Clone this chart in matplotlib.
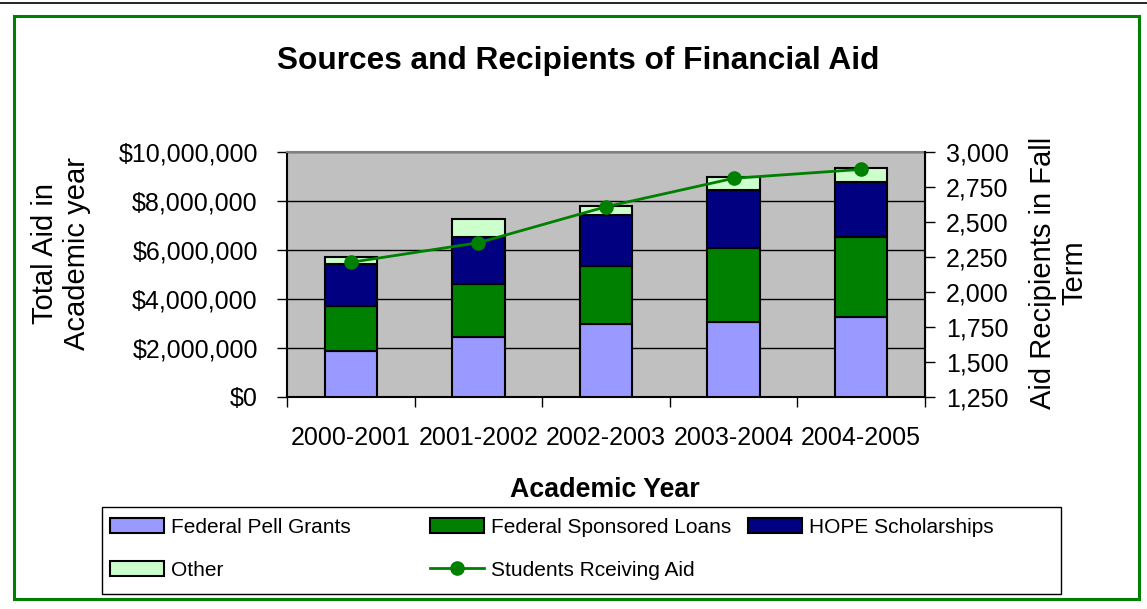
import matplotlib.pyplot as plt
import numpy as np
from matplotlib.patches import Rectangle
from matplotlib.lines import Line2D
from matplotlib.ticker import FuncFormatter

plt.rcParams['font.family'] = ['Liberation Sans', 'DejaVu Sans']

# data
years = ['2000-2001', '2001-2002', '2002-2003', '2003-2004', '2004-2005']
pell = [1890000, 2440000, 2990000, 3070000, 3250000]
loans = [1820000, 2170000, 2340000, 3000000, 3270000]
hope = [1720000, 1920000, 2110000, 2370000, 2270000]
other = [280000, 720000, 370000, 530000, 540000]
students = [2212, 2352, 2609, 2812, 2876]

W, H = 1147, 609
fig = plt.figure(figsize=(W / 100, H / 100), dpi=100)
ax = fig.add_axes([287 / W, 1 - 397 / H, (925 - 287) / W, (397 - 152) / H])

x = np.arange(len(years))
bw = 0.41
b0 = np.zeros(len(years))
series = [(pell, '#9999FF', 'Federal Pell Grants'),
          (loans, '#008000', 'Federal Sponsored Loans'),
          (hope, '#000080', 'HOPE Scholarships'),
          (other, '#CCFFCC', 'Other')]
bars = []
for vals, col, lab in series:
    b = ax.bar(x, vals, bw, bottom=b0, color=col, edgecolor='black', linewidth=1.5, label=lab, zorder=3)
    bars.append(b)
    b0 = b0 + np.array(vals)

ax.set_facecolor('#C0C0C0')
ax.set_xlim(-0.5, 4.5)
ax.set_ylim(0, 10000000)
ax.set_yticks(np.arange(0, 10000001, 2000000))
ax.yaxis.set_major_formatter(FuncFormatter(lambda v, p: '${:,.0f}'.format(v)))
ax.grid(axis='y', color='black', linewidth=1, zorder=1)
ax.set_axisbelow(True)
ax.set_xticks(np.arange(-0.5, 5, 1))
ax.set_xticklabels([])
ax.set_xticks(x, minor=True)
ax.set_xticklabels(years, minor=True)
ax.tick_params(axis='x', which='major', direction='out', length=7, width=1)
ax.tick_params(axis='x', which='minor', length=0, pad=21, labelsize=18)
ax.tick_params(axis='y', direction='out', length=7, width=1, pad=14, labelsize=18)
for s in ['left', 'bottom']:
    ax.spines[s].set_color('black')
    ax.spines[s].set_linewidth(1.5)
ax.spines['top'].set_color('#808080')
ax.spines['top'].set_linewidth(1.5)

ax2 = ax.twinx()
line, = ax2.plot(x, students, color='#008000', linewidth=2, marker='o', markersize=9.5,
                 label='Students Rceiving Aid', zorder=5)
ax2.set_ylim(1250, 3000)
ax2.set_yticks(np.arange(1250, 3001, 250))
ax2.yaxis.set_major_formatter(FuncFormatter(lambda v, p: '{:,.0f}'.format(v)))
ax2.tick_params(axis='y', direction='out', length=7, width=1, pad=8, labelsize=18)
ax2.spines['right'].set_color('black')
ax2.spines['right'].set_linewidth(1.5)
for s in ['left', 'top', 'bottom']:
    ax2.spines[s].set_visible(False)

fig.text(578 / W, 1 - 61 / H, 'Sources and Recipients of Financial Aid', ha='center', va='center',
         fontsize=22.8, fontweight='bold')
fig.text(605 / W, 1 - 490 / H, 'Academic Year', ha='center', va='center', fontsize=19.3, fontweight='bold')
fig.text(61 / W, 1 - 254 / H, 'Total Aid in\nAcademic year', ha='center', va='center', rotation=90,
         fontsize=21, multialignment='center', linespacing=1.16)
fig.text(1059 / W, 1 - 273 / H, 'Aid Recipients in Fall\nTerm', ha='center', va='center', rotation=90,
         fontsize=21, multialignment='center', linespacing=1.16)

# legend: three fixed-width columns inside one frame
fig.add_artist(Rectangle((102 / W, 1 - 594 / H), (1061 - 102) / W, (594 - 507) / H,
                         transform=fig.transFigure, fill=False, edgecolor='black', linewidth=1))
cols = [([bars[0], bars[3]], ['Federal Pell Grants', 'Other'], 110),
        ([bars[1], line], ['Federal Sponsored Loans', 'Students Rceiving Aid'], 430),
        ([bars[2]], ['HOPE Scholarships'], 748)]
for hs, ls, xl in cols:
    fig.legend(hs, ls, loc='upper left', bbox_to_anchor=(xl / W, 1 - 518 / H), frameon=False,
               fontsize=15, handlelength=2.6, handleheight=0.7, handletextpad=0.35,
               labelspacing=1.14, borderpad=0, borderaxespad=0)

# outer frame and top rule
fig.add_artist(Rectangle((14 / W, 1 - 599 / H), (1139 - 14) / W, (599 - 16) / H,
                         transform=fig.transFigure, fill=False, edgecolor='#008000', linewidth=2.2))
fig.add_artist(Line2D([0, 1], [1 - 3 / H, 1 - 3 / H], transform=fig.transFigure, color='black', linewidth=1.2))

fig.savefig('out.png', dpi=100)
